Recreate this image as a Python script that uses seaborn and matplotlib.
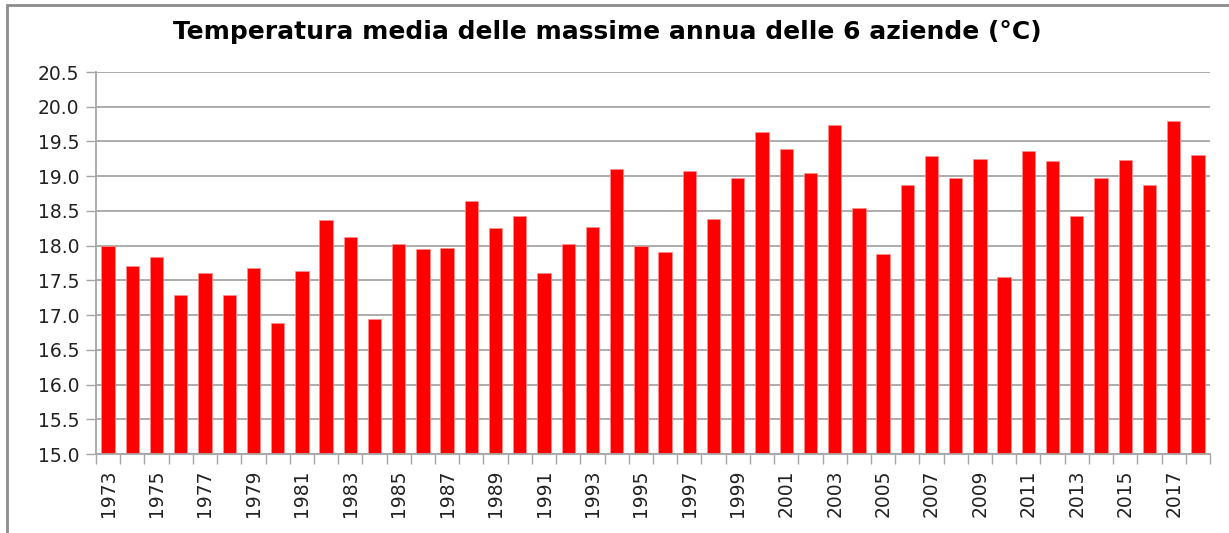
# Annual mean of maximum temperatures, bar chart
import numpy as np
import pandas as pd
import matplotlib
matplotlib.use("Agg")
import matplotlib.pyplot as plt
import seaborn as sns
from matplotlib.patches import Rectangle
from matplotlib.ticker import FixedLocator, FormatStrFormatter

# Data
years = list(range(1973, 2019))
temps = [18.00, 17.71, 17.83, 17.29, 17.61, 17.29, 17.68, 16.89, 17.64, 18.37,
         18.12, 16.95, 18.03, 17.95, 17.96, 18.64, 18.25, 18.43, 17.61, 18.03,
         18.27, 19.10, 18.00, 17.91, 19.07, 18.39, 18.98, 19.63, 19.39, 19.05,
         19.73, 18.54, 17.88, 18.88, 19.29, 18.97, 19.25, 17.55, 19.36, 19.22,
         18.42, 18.98, 19.24, 18.87, 19.80, 19.30]
title = "Temperatura media delle massime annua delle 6 aziende (°C)"

df = pd.DataFrame({"anno": [str(y) for y in years], "temp": temps})

sns.set_style("white")
plt.rcParams["font.family"] = ["DejaVu Sans"]

W, H = 1229, 533
fig = plt.figure(figsize=(W / 100, H / 100), dpi=100)
ax = fig.add_axes([96 / W, 1 - 454 / H, (1210 - 96) / W, (454 - 72) / H])

sns.barplot(data=df, x="anno", y="temp", color="#ff0000", saturation=1,
            width=0.55, ax=ax, edgecolor="#ff9090", linewidth=0.5)

grid_col = "#a6a6a6"
ax.set_ylim(15.0, 20.5)
ax.set_xlim(-0.5, len(years) - 0.5)
ax.yaxis.set_major_locator(FixedLocator(np.arange(15.0, 20.51, 0.5)))
ax.yaxis.set_major_formatter(FormatStrFormatter("%.1f"))
ax.grid(axis="y", color=grid_col, linewidth=1.3)
ax.set_axisbelow(True)

# tick marks between categories, labels on odd years
ax.xaxis.set_major_locator(FixedLocator(np.arange(-0.5, len(years), 1.0)))
ax.xaxis.set_major_formatter(plt.NullFormatter())
lab_pos = [i for i, y in enumerate(years) if y % 2 == 1]
ax.xaxis.set_minor_locator(FixedLocator(lab_pos))
ax.set_xticks(lab_pos, [str(years[i]) for i in lab_pos], minor=True)
ax.tick_params(axis="x", which="major", length=7, width=1, color=grid_col, bottom=True)
ax.tick_params(axis="x", which="minor", length=0, pad=11, labelrotation=90,
               labelsize=13.5, labelcolor="#222222")
ax.tick_params(axis="y", length=7, width=1, color=grid_col, left=True,
               labelsize=13.5, labelcolor="#222222", pad=5)

for side in ["top", "right"]:
    ax.spines[side].set_visible(False)
for side in ["left", "bottom"]:
    ax.spines[side].set_color(grid_col)
    ax.spines[side].set_linewidth(1.3)
ax.set_xlabel("")
ax.set_ylabel("")

fig.text(607 / W, 1 - 32 / H, title, ha="center", va="center",
         fontsize=18, fontweight="bold", color="black")

# outer chart border
fig.patches.append(Rectangle((7 / W, -0.05), 1.05, 1 - 5 / H + 0.05,
                             transform=fig.transFigure, fill=False,
                             edgecolor="#8c8c8c", linewidth=2))

fig.savefig("out.png", dpi=100)
